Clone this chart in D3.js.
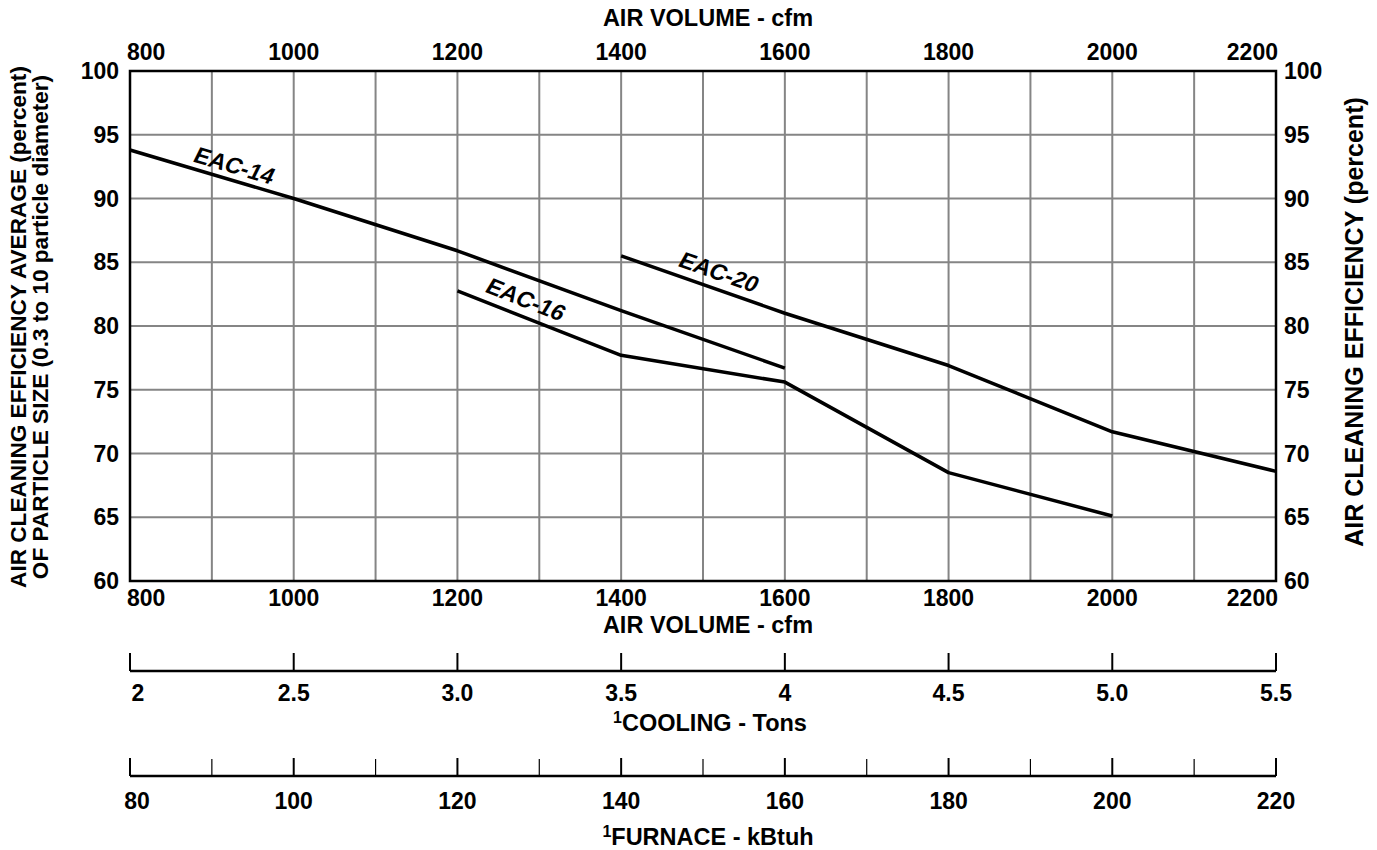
<!DOCTYPE html>
<html>
<head>
<meta charset="utf-8">
<script src="https://cdn.jsdelivr.net/npm/d3@7"></script>
<style>
  html, body { margin: 0; padding: 0; background: #fff; }
  svg { display: block; font-family: "Liberation Sans", Arial, sans-serif; font-weight: bold; }
</style>
</head>
<body>
<script>
// ---- data ----
const cfmTicks = [800, 1000, 1200, 1400, 1600, 1800, 2000, 2200];
const cfmGrid = [900, 1000, 1100, 1200, 1300, 1400, 1500, 1600, 1700, 1800, 1900, 2000, 2100];
const effTicks = [60, 65, 70, 75, 80, 85, 90, 95, 100];
const coolingTicks = [2, 2.5, 3.0, 3.5, 4, 4.5, 5.0, 5.5];
const coolingLabels = ["2", "2.5", "3.0", "3.5", "4", "4.5", "5.0", "5.5"];
const furnaceMajor = [80, 100, 120, 140, 160, 180, 200, 220];
const furnaceMinor = [90, 110, 130, 150, 170, 190, 210];

const eac14_cfm = [800, 1000, 1200, 1400, 1600];
const eac14_eff = [93.8, 90.0, 85.9, 81.2, 76.7];
const eac16_cfm = [1200, 1400, 1600, 1800, 2000];
const eac16_eff = [82.75, 77.7, 75.6, 68.5, 65.1];
const eac20_cfm = [1400, 1600, 1800, 2000, 2200];
const eac20_eff = [85.5, 81.0, 76.9, 71.7, 68.6];

const seriesNames = ["EAC-14", "EAC-16", "EAC-20"];
// label centre positions (cfm, efficiency) for each series label
const labelCfm = [928, 1284, 1520];
const labelEff = [92.6, 82.1, 84.25];

// ---- layout ----
const W = 1377, H = 850;
const L = 130, R = 1276, T = 71, B = 581;
const TICK_FS = 23, TITLE_FS = 23.5;

const svg = d3.select("body").append("svg").attr("width", W).attr("height", H);

const x = d3.scaleLinear().domain([800, 2200]).range([L, R]);
const y = d3.scaleLinear().domain([60, 100]).range([B, T]);
const xCool = d3.scaleLinear().domain([2, 5.5]).range([L, R]);
const xFurn = d3.scaleLinear().domain([80, 220]).range([L, R]);

// grid
const g = svg.append("g");
g.selectAll("line.vg").data(cfmGrid).enter().append("line")
  .attr("x1", d => x(d)).attr("x2", d => x(d)).attr("y1", T).attr("y2", B)
  .attr("stroke", "#858585").attr("stroke-width", 2);
g.selectAll("line.hg").data(effTicks.slice(1, -1)).enter().append("line")
  .attr("x1", L).attr("x2", R).attr("y1", d => y(d)).attr("y2", d => y(d))
  .attr("stroke", "#858585").attr("stroke-width", 2);

// frame
svg.append("rect").attr("x", L).attr("y", T).attr("width", R - L).attr("height", B - T)
  .attr("fill", "none").attr("stroke", "#000").attr("stroke-width", 2.5);

// tick labels: x top/bottom
function xLabelAnchor(i, n) { return i === 0 ? "start" : (i === n - 1 ? "end" : "middle"); }
function xLabelPos(d, i, n) { return i === 0 ? x(d) - 3 : (i === n - 1 ? x(d) + 2 : x(d)); }
[60, 606].forEach(by => {
  svg.selectAll(null).data(cfmTicks).enter().append("text")
    .attr("x", (d, i) => xLabelPos(d, i, cfmTicks.length)).attr("y", by)
    .attr("text-anchor", (d, i) => xLabelAnchor(i, cfmTicks.length))
    .attr("font-size", TICK_FS).text(d => d);
});
// y labels left / right
svg.selectAll(null).data(effTicks).enter().append("text")
  .attr("x", 119).attr("y", d => y(d) + 8).attr("text-anchor", "end")
  .attr("font-size", TICK_FS).text(d => d);
svg.selectAll(null).data(effTicks).enter().append("text")
  .attr("x", 1284).attr("y", d => y(d) + 8).attr("text-anchor", "start")
  .attr("font-size", TICK_FS).text(d => d);

// axis titles
svg.append("text").attr("x", 708).attr("y", 26).attr("text-anchor", "middle")
  .attr("font-size", TITLE_FS).text("AIR VOLUME - cfm");
svg.append("text").attr("x", 708).attr("y", 633).attr("text-anchor", "middle")
  .attr("font-size", TITLE_FS).text("AIR VOLUME - cfm");

svg.append("text").attr("transform", "translate(26,327) rotate(-90)").attr("text-anchor", "middle")
  .attr("font-size", 22.6).text("AIR CLEANING EFFICIENCY AVERAGE (percent)");
svg.append("text").attr("transform", "translate(48,327) rotate(-90)").attr("text-anchor", "middle")
  .attr("font-size", 22.6).text("OF PARTICLE SIZE (0.3 to 10 particle diameter)");
svg.append("text").attr("transform", "translate(1363,322) rotate(-90)").attr("text-anchor", "middle")
  .attr("font-size", 25).text("AIR CLEANING EFFICIENCY (percent)");

// lines
const line = d3.line().x(d => x(d[0])).y(d => y(d[1]));
const series = [
  d3.zip(eac14_cfm, eac14_eff),
  d3.zip(eac16_cfm, eac16_eff),
  d3.zip(eac20_cfm, eac20_eff)
];
svg.selectAll("path.s").data(series).enter().append("path")
  .attr("d", line).attr("fill", "none").attr("stroke", "#000").attr("stroke-width", 3.5)
  .attr("stroke-linejoin", "round");

// series labels, rotated along local slope
seriesNames.forEach((name, i) => {
  const s = series[i];
  const cx = labelCfm[i];
  let k = 0;
  while (k < s.length - 2 && s[k + 1][0] < cx) k++;
  const ang = Math.atan2(y(s[k + 1][1]) - y(s[k][1]), x(s[k + 1][0]) - x(s[k][0])) * 180 / Math.PI;
  svg.append("text")
    .attr("transform", `translate(${x(cx)},${y(labelEff[i])}) rotate(${ang}) skewX(-10)`)
    .attr("text-anchor", "middle").attr("dy", "0.36em").attr("font-size", 23).text(name);
});

// cooling axis
const coolY = 671;
const cg = svg.append("g");
cg.append("line").attr("x1", xCool(2)).attr("x2", xCool(5.5)).attr("y1", coolY).attr("y2", coolY)
  .attr("stroke", "#000").attr("stroke-width", 2.5);
cg.selectAll(null).data(coolingTicks).enter().append("line")
  .attr("x1", d => xCool(d)).attr("x2", d => xCool(d)).attr("y1", coolY - 18).attr("y2", coolY)
  .attr("stroke", "#000").attr("stroke-width", 2);
cg.selectAll(null).data(coolingTicks).enter().append("text")
  .attr("x", (d, i) => i === 0 ? xCool(d) + 8 : xCool(d)).attr("y", 701)
  .attr("text-anchor", "middle").attr("font-size", TICK_FS).text((d, i) => coolingLabels[i]);
const ct = svg.append("text").attr("x", 710).attr("y", 731).attr("text-anchor", "middle").attr("font-size", TITLE_FS);
ct.append("tspan").attr("font-size", 16).attr("dy", -8).text("1");
ct.append("tspan").attr("dy", 8).text("COOLING - Tons");

// furnace axis
const furnY = 776;
const fg = svg.append("g");
fg.append("line").attr("x1", xFurn(80)).attr("x2", xFurn(220)).attr("y1", furnY).attr("y2", furnY)
  .attr("stroke", "#000").attr("stroke-width", 2.5);
fg.selectAll(null).data(furnaceMajor).enter().append("line")
  .attr("x1", d => xFurn(d)).attr("x2", d => xFurn(d)).attr("y1", furnY - 18).attr("y2", furnY)
  .attr("stroke", "#000").attr("stroke-width", 2);
fg.selectAll(null).data(furnaceMinor).enter().append("line")
  .attr("x1", d => xFurn(d)).attr("x2", d => xFurn(d)).attr("y1", furnY - 17).attr("y2", furnY)
  .attr("stroke", "#000").attr("stroke-width", 1.2);
fg.selectAll(null).data(furnaceMajor).enter().append("text")
  .attr("x", (d, i) => i === 0 ? xFurn(d) + 7 : xFurn(d)).attr("y", 809)
  .attr("text-anchor", "middle").attr("font-size", TICK_FS).text(d => d);
const ft = svg.append("text").attr("x", 708).attr("y", 845).attr("text-anchor", "middle").attr("font-size", TITLE_FS);
ft.append("tspan").attr("font-size", 16).attr("dy", -8).text("1");
ft.append("tspan").attr("dy", 8).text("FURNACE - kBtuh");
</script>
</body>
</html>
